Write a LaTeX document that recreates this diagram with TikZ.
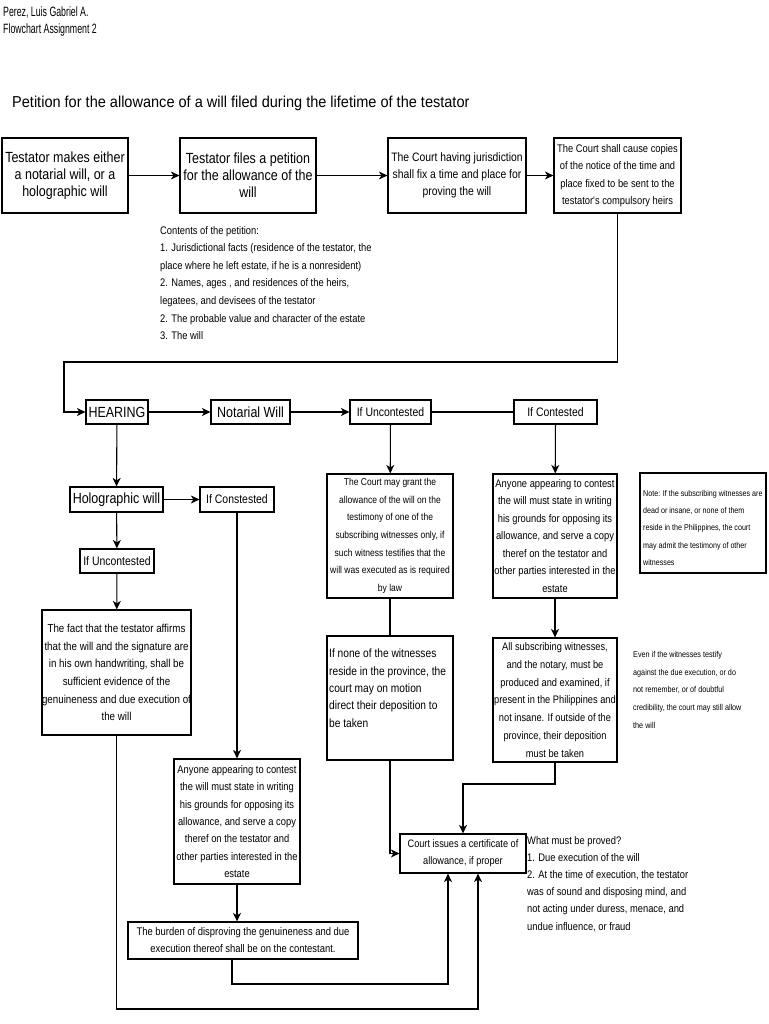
\documentclass[tikz,border=0pt]{standalone}
\usepackage{fontspec}
\setmainfont{Liberation Sans}
\newfontfamily\fM{Liberation Sans}[FakeStretch=0.85]
\newfontfamily\fH{Liberation Sans}[FakeStretch=0.65]
\newfontfamily\fT{Liberation Sans}[FakeStretch=0.92]
\usetikzlibrary{arrows.meta}
\newcommand{\fz}[2]{\fM\fontsize{#1}{#2}\selectfont}
\begin{document}
\begin{tikzpicture}[x=1pt,y=-1pt,
  box/.style={draw, line width=1.2pt, inner sep=0pt, align=center},
  plain/.style={inner sep=0pt, align=left},
  conn/.style={line width=1.1pt},
  arr/.style={conn, -{Stealth[length=8.5pt,width=8pt,inset=2.5pt]}},
  bigt/.style={font=\fz{14.7}{17}},
  lblt/.style={font=\fz{12.3}{15}}]
\useasboundingbox (0,0) rectangle (768,1024);

% header and title
\node[plain, anchor=north west, font=\fH\fontsize{13.5}{17}\selectfont] (hdr) at (3,7)
  {Perez, Luis Gabriel A.\\Flowchart Assignment 2};
\node[plain, anchor=base west, font=\fT\fontsize{15.8}{18}\selectfont] (title) at (12,107.5)
  {Petition for the allowance of a will filed during the lifetime of the testator};

% row 1
\node[box, bigt, minimum width=126pt, minimum height=75pt] (A) at (65,175.5)
  {Testator makes either\\a notarial will, or a\\holographic will};
\node[box, bigt, minimum width=136pt, minimum height=75pt] (B) at (248,175.5)
  {Testator files a petition\\for the allowance of the\\will};
\node[box, font=\fz{12.2}{17}, minimum width=138pt, minimum height=75pt] (C) at (457,175.5)
  {The Court having jurisdiction\\shall fix a time and place for\\proving the will};
\node[box, font=\fz{11}{17.5}, minimum width=127pt, minimum height=75pt] (D) at (617.5,175.5)
  {The Court shall cause copies\\of the notice of the time and\\place fixed to be sent to the\\testator's compulsory heirs};

\node[plain, anchor=north west, font=\fz{11}{17.6}] (contents) at (160,226)
  {Contents of the petition:\\
   1. Jurisdictional facts (residence of the testator, the\\
   place where he left estate, if he is a nonresident)\\
   2. Names, ages , and residences of the heirs,\\
   legatees, and devisees of the testator\\
   2. The probable value and character of the estate\\
   3. The will};

% row 2
\node[box, bigt, minimum width=62pt, minimum height=24pt] (hear) at (117,412) {HEARING};
\node[box, bigt, minimum width=79pt, minimum height=24pt] (notw) at (250.5,412) {Notarial Will};
\node[box, lblt, minimum width=81pt, minimum height=24pt] (unc) at (390.5,412) {If Uncontested};
\node[box, lblt, minimum width=83pt, minimum height=24pt] (con) at (555.5,412) {If Contested};

% holographic branch
\node[box, bigt, minimum width=93pt, minimum height=25pt] (holo) at (116.5,499.5) {Holographic will};
\node[box, lblt, minimum width=74pt, minimum height=25pt] (ifcons) at (237,499.5) {If Constested};
\node[box, lblt, minimum width=74pt, minimum height=24pt] (lunc) at (117,561) {If Uncontested};
\node[box, font=\fz{11.5}{17.6}, minimum width=147pt, minimum height=125pt] (fact) at (116.5,672.5)
  {The fact that the testator affirms\\that the will and the signature are\\in his own handwriting, shall be\\sufficient evidence of the\\genuineness and due execution of\\the will};
\node[box, font=\fz{11}{17.3}, minimum width=126pt, minimum height=125pt] (lany) at (237,821.5)
  {Anyone appearing to contest\\the will must state in writing\\his grounds for opposing its\\allowance, and serve a copy\\theref on the testator and\\other parties interested in the\\estate};
\node[box, font=\fz{11.1}{17}, minimum width=230pt, minimum height=37pt] (burden) at (243,940.5)
  {The burden of disproving the genuineness and due\\execution thereof shall be on the contestant.};

% notarial branch
\node[box, font=\fz{10}{17.7}, minimum width=126pt, minimum height=124pt] (mgrant) at (390,536)
  {The Court may grant the\\allowance of the will on the\\testimony of one of the\\subscribing witnesses only, if\\such witness testifies that the\\will was executed as is required\\by law};
\node[box, font=\fz{11}{17.5}, minimum width=124pt, minimum height=124pt] (rany) at (555,536)
  {Anyone appearing to contest\\the will must state in writing\\his grounds for opposing its\\allowance, and serve a copy\\theref on the testator and\\other parties interested in the\\estate};
\node[box, minimum width=126pt, minimum height=124pt] (none) at (390,698) {};
\node[plain, anchor=north west, font=\fz{12}{17.4}] (nonetxt) at (329,648.7)
  {If none of the witnesses\\reside in the province, the\\court may on motion\\direct their deposition to\\be taken};
\node[box, font=\fz{10.9}{17.8}, minimum width=124pt, minimum height=124pt] (allsub) at (555,700)
  {All subscribing witnesses,\\and the notary, must be\\produced and examined, if\\present in the Philippines and\\not insane. If outside of the\\province, their deposition\\must be taken};

\node[box, minimum width=126pt, minimum height=100pt] (note) at (703,523) {};
\node[plain, anchor=north west, font=\fz{8.4}{17.3}] (notetxt) at (643,490)
  {Note: If the subscribing witnesses are\\dead or insane, or none of them\\reside in the Philippines, the court\\may admit the testimony of other\\witnesses};
\node[plain, anchor=north west, font=\fz{8.5}{17.7}] (evenif) at (633,651)
  {Even if the witnesses testify\\against the due execution, or do\\not remember, or of doubtful\\credibility, the court may still allow\\the will};

\node[box, font=\fz{10.8}{17}, minimum width=126pt, minimum height=39pt] (court) at (463,853.5)
  {Court issues a certificate of\\allowance, if proper};
\node[plain, anchor=north west, font=\fz{11}{17.2}] (proved) at (527,836)
  {What must be proved?\\
   1. Due execution of the will\\
   2. At the time of execution, the testator\\
   was of sound and disposing mind, and\\
   not acting under duress, menace, and\\
   undue influence, or fraud};

% connectors
\coordinate (c1) at (64,362);
\coordinate (b1) at (448,984);
\coordinate (b2) at (478,1009);
\coordinate (b3) at (463,784);

\draw[arr] (A) -- (B);
\draw[arr] (B) -- (C);
\draw[arr] (C) -- (D);
\draw[arr] (D.south) |- (c1) |- (hear.west);
\draw[arr] (hear) -- (notw);
\draw[arr] (notw) -- (unc);
\draw[conn] (unc) -- (con);
\draw[arr] (hear) -- (holo);
\draw[arr] (holo) -- (ifcons);
\draw[arr] (holo) -- (lunc);
\draw[arr] (lunc) -- (fact);
\draw[arr] (ifcons) -- (lany);
\draw[arr] (lany.south) -- (lany.south |- burden.north);
\draw[arr] ([xshift=-11pt]burden.south) |- (b1) -- (b1 |- court.south);
\draw[arr] (fact.south) |- (b2) -- (b2 |- court.south);
\draw[arr] (unc) -- (mgrant);
\draw[conn] (mgrant) -- (none);
\draw[arr] (none.south) |- (court.west);
\draw[arr] (con) -- (rany);
\draw[arr] (rany) -- (allsub);
\draw[arr] (allsub.south) |- (b3) -- (court.north);
\end{tikzpicture}
\end{document}
